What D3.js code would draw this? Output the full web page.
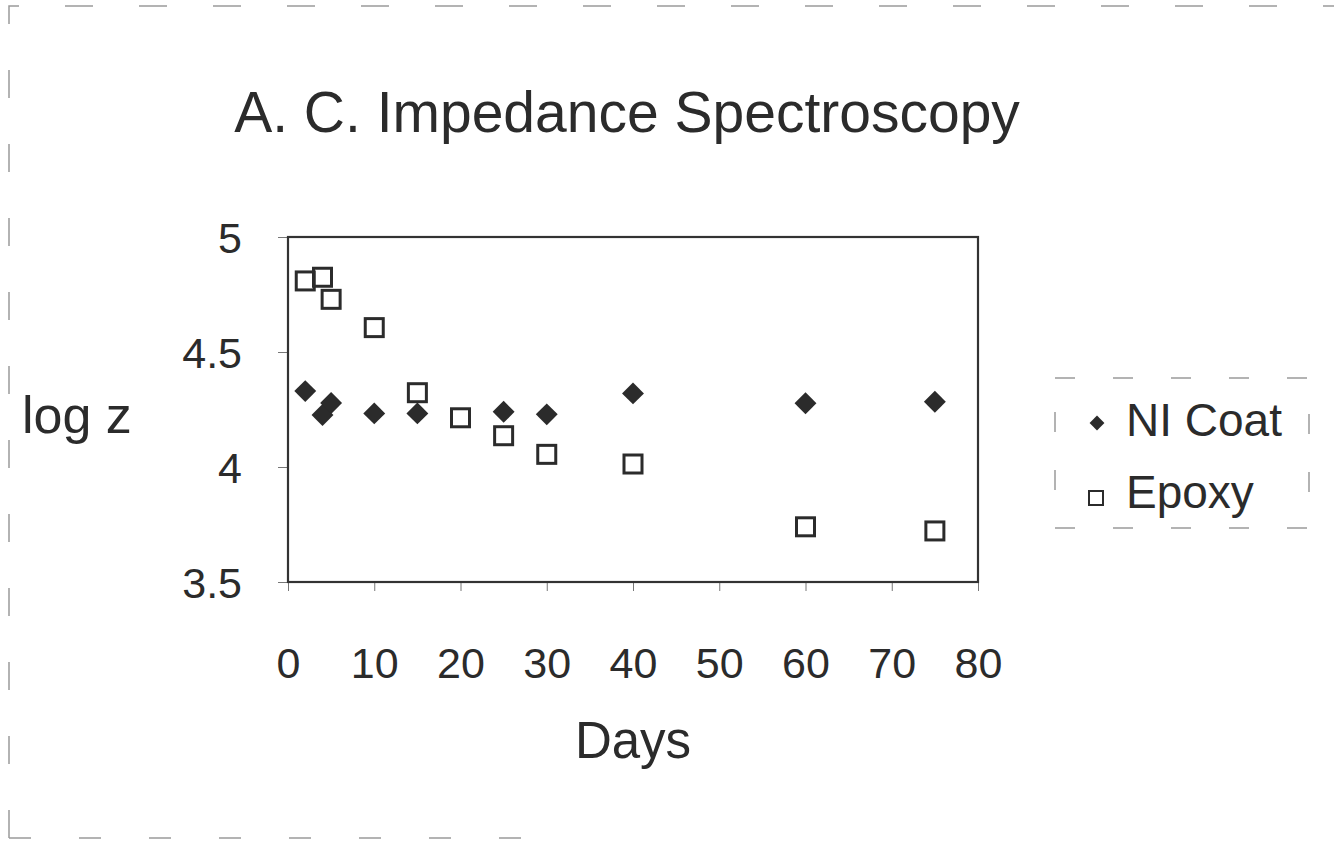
<!DOCTYPE html>
<html><head><meta charset="utf-8">
<script src="https://cdn.jsdelivr.net/npm/d3@7"></script>
<style>html,body{margin:0;padding:0;background:#fff;}svg{display:block;}</style>
</head><body>
<script>
const niDays   = [2, 4, 5, 10, 15, 25, 30, 40, 60, 75];
const niLogZ   = [4.33, 4.226, 4.278, 4.233, 4.233, 4.24, 4.229, 4.32, 4.277, 4.284];
const epDays   = [2, 4, 5, 10, 15, 20, 25, 30, 40, 60, 75];
const epLogZ   = [4.809, 4.825, 4.729, 4.606, 4.323, 4.214, 4.136, 4.055, 4.013, 3.740, 3.722];
const xTicks   = [0, 10, 20, 30, 40, 50, 60, 70, 80];
const yTicks   = [3.5, 4, 4.5, 5];
const seriesNames = ["NI Coat", "Epoxy"];

const W = 1334, H = 842;
const ink = "#2b2b2b";
const font = "'Liberation Sans', Arial, Helvetica, sans-serif";
const svg = d3.select("body").append("svg").attr("width", W).attr("height", H);

// scanned page frame (dashed)
svg.append("path").attr("d", "M9,838 L9,6 L1334,6")
  .attr("fill", "none").attr("stroke", "#9a9a9a").attr("stroke-width", 1.5)
  .attr("stroke-dasharray", "28,46");
svg.append("path").attr("d", "M9,838 L560,838")
  .attr("fill", "none").attr("stroke", "#9a9a9a").attr("stroke-width", 1.5)
  .attr("stroke-dasharray", "22,48");

const x = d3.scaleLinear().domain([0, 80]).range([288, 978]);
const y = d3.scaleLinear().domain([3.5, 5]).range([582, 237]);

// title
svg.append("text").attr("x", 627).attr("y", 132).attr("text-anchor", "middle")
  .attr("font-family", font).attr("font-size", 57).attr("fill", ink)
  .text("A. C. Impedance Spectroscopy");

// axes
const xAxis = svg.append("g").attr("transform", `translate(0,${y(3.5)})`)
  .call(d3.axisBottom(x).tickValues(xTicks).tickSize(9).tickPadding(87).tickFormat(d3.format("d")));
const yAxis = svg.append("g").attr("transform", `translate(${x(0)},0)`)
  .call(d3.axisLeft(y).tickValues(yTicks).tickSize(10).tickPadding(36).tickFormat(d => String(d)));
[xAxis, yAxis].forEach(g => {
  g.select(".domain").remove();
  g.selectAll(".tick line").attr("stroke", "#777").attr("stroke-width", 1);
  g.selectAll(".tick text").attr("font-family", font).attr("font-size", 43).attr("fill", ink);
});
xAxis.selectAll(".tick text").attr("dy", "0");
yAxis.selectAll(".tick text").attr("dy", "0.36em");

// plot frame
svg.append("rect").attr("x", x(0)).attr("y", y(5))
  .attr("width", x(80) - x(0)).attr("height", y(3.5) - y(5))
  .attr("fill", "none").attr("stroke", "#333").attr("stroke-width", 2.2);

// axis titles
svg.append("text").attr("x", 22).attr("y", 433)
  .attr("font-family", font).attr("font-size", 52).attr("fill", ink).text("log z");
svg.append("text").attr("x", 633).attr("y", 758).attr("text-anchor", "middle")
  .attr("font-family", font).attr("font-size", 51).attr("fill", ink).text("Days");

// data
const diamond = d3.symbol(d3.symbolSquare, 240);
const ni = niDays.map((d, i) => ({d, v: niLogZ[i]}));
const ep = epDays.map((d, i) => ({d, v: epLogZ[i]}));

svg.append("g").selectAll("path").data(ni).join("path")
  .attr("d", diamond)
  .attr("transform", p => `translate(${x(p.d)},${y(p.v)}) rotate(45)`)
  .attr("fill", ink);

svg.append("g").selectAll("rect").data(ep).join("rect")
  .attr("x", p => x(p.d) - 9).attr("y", p => y(p.v) - 9)
  .attr("width", 18).attr("height", 18)
  .attr("fill", "none").attr("stroke", ink).attr("stroke-width", 3);

// legend
svg.append("rect").attr("x", 1055).attr("y", 378).attr("width", 254).attr("height", 150)
  .attr("fill", "none").attr("stroke", "#9a9a9a").attr("stroke-width", 1.5)
  .attr("stroke-dasharray", "20,38");
svg.append("path").attr("d", d3.symbol(d3.symbolSquare, 110))
  .attr("transform", "translate(1097,423) rotate(45)").attr("fill", ink);
svg.append("rect").attr("x", 1089).attr("y", 491).attr("width", 14).attr("height", 14)
  .attr("fill", "none").attr("stroke", ink).attr("stroke-width", 2);
svg.append("text").attr("x", 1126).attr("y", 436).attr("font-family", font)
  .attr("font-size", 46).attr("fill", ink).text(seriesNames[0]);
svg.append("text").attr("x", 1126).attr("y", 508).attr("font-family", font)
  .attr("font-size", 46).attr("fill", ink).text(seriesNames[1]);
</script>
</body></html>
